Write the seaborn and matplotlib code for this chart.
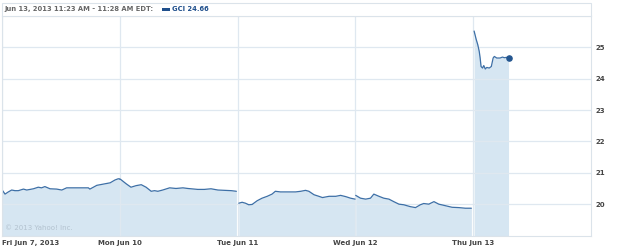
import matplotlib
matplotlib.use("Agg")
import matplotlib.pyplot as plt
from matplotlib.patches import Rectangle
import seaborn as sns
import pandas as pd

# ---- data (minutes since 9:30 open, price) ----
day_labels = ["Fri Jun 7, 2013", "Mon Jun 10", "Tue Jun 11", "Wed Jun 12", "Thu Jun 13"]

fri_min = [0, 10, 21, 32, 43, 54, 71, 82, 104, 120, 131, 142, 159, 181, 198, 214, 247, 286, 291, 314, 336, 358, 374, 385, 390]
fri_px = [20.46, 20.32, 20.39, 20.45, 20.43, 20.43, 20.48, 20.45, 20.49, 20.54, 20.52, 20.56, 20.49, 20.48, 20.45, 20.52, 20.52, 20.52, 20.48, 20.60, 20.64, 20.68, 20.77, 20.81, 20.80]

mon_min = [0, 4, 21, 37, 54, 71, 87, 104, 115, 126, 142, 165, 186, 209, 225, 258, 280, 302, 325, 347, 369, 386]
mon_px = [20.80, 20.78, 20.65, 20.54, 20.59, 20.62, 20.54, 20.41, 20.43, 20.41, 20.45, 20.52, 20.50, 20.52, 20.50, 20.47, 20.47, 20.49, 20.45, 20.44, 20.43, 20.41]

tue_min = [4, 15, 26, 37, 48, 65, 81, 98, 114, 125, 142, 159, 175, 192, 209, 225, 236, 253, 269, 281, 303, 325, 341, 358, 374, 389]
tue_px = [20.03, 20.06, 20.03, 19.98, 19.99, 20.11, 20.19, 20.25, 20.32, 20.41, 20.39, 20.39, 20.39, 20.39, 20.41, 20.44, 20.41, 20.30, 20.25, 20.21, 20.25, 20.25, 20.28, 20.24, 20.19, 20.16]

wed_min = [1, 17, 34, 50, 61, 78, 94, 111, 127, 144, 160, 182, 199, 215, 226, 243, 260, 276, 298, 320, 342, 364, 384]
wed_px = [20.28, 20.19, 20.16, 20.19, 20.32, 20.25, 20.19, 20.16, 20.08, 20.00, 19.98, 19.92, 19.89, 19.98, 20.02, 20.00, 20.08, 20.00, 19.95, 19.90, 19.89, 19.87, 19.87]

thu_min = [3, 10, 15, 20, 23, 26, 31, 35, 40, 45, 53, 60, 66, 70, 78, 89, 97, 103, 110, 117]
thu_px = [25.52, 25.25, 25.09, 24.87, 24.66, 24.39, 24.34, 24.42, 24.31, 24.36, 24.34, 24.39, 24.66, 24.71, 24.66, 24.66, 24.69, 24.67, 24.68, 24.66]

y_ticks = [20, 21, 22, 23, 24, 25]
header_text = "Jun 13, 2013 11:23 AM - 11:28 AM EDT:"
legend_text = "GCI 24.66"
watermark = "\u00a9 2013 Yahoo! Inc."

SESSION = 390.0
days = [(fri_min, fri_px), (mon_min, mon_px), (tue_min, tue_px), (wed_min, wed_px), (thu_min, thu_px)]
rows = []
for i, (mins, pxs) in enumerate(days):
    for m, p in zip(mins, pxs):
        rows.append({"day": i, "x": i + m / SESSION, "price": p})
df = pd.DataFrame(rows)

sns.set_style("white")
plt.rcParams["font.family"] = ["DejaVu Sans"]

W, H = 625, 248
fig = plt.figure(figsize=(W / 100, H / 100), dpi=100)
ax = fig.add_axes([2 / W, 1 - 235.5 / H, 589 / W, (235.5 - 16) / H])

line_c = "#3d6fa6"
fill_c = "#d6e6f2"
grid_c = "#dfe8f0"
ymin, ymax = 19.0, 26.0

for i in range(5):
    d = df[df["day"] == i]
    ax.fill_between(d["x"], d["price"], ymin, color=fill_c, lw=0, zorder=1)

sns.lineplot(data=df, x="x", y="price", units="day", estimator=None,
             color=line_c, lw=0.9, ax=ax, zorder=3, legend=False)
last = df.iloc[-1]
ax.scatter([last["x"]], [last["price"]], s=14, color="#23558f", zorder=4)

ax.set_xlim(0, 5)
ax.set_ylim(ymin, ymax)
ax.set_xticks(range(5))
ax.set_xticklabels(day_labels)
for k, lab in enumerate(ax.get_xticklabels()):
    if k == 0:
        lab.set_ha("left")
ax.set_yticks(y_ticks)
ax.yaxis.tick_right()
ax.tick_params(axis="both", length=0, labelsize=5.0, labelcolor="#444444")
ax.tick_params(axis="x", pad=3)
ax.tick_params(axis="y", pad=3)
for lab in ax.get_xticklabels() + ax.get_yticklabels():
    lab.set_fontweight("bold")
ax.set_xlabel("")
ax.set_ylabel("")
ax.grid(True, color=grid_c, lw=0.9, zorder=2)
ax.set_axisbelow(False)
for s in ax.spines.values():
    s.set_color("#dbe3ea")
    s.set_linewidth(0.8)
    s.set_zorder(5)

ax.text(0.005, 0.02, watermark, transform=ax.transAxes, fontsize=5.0,
        color="#b3c2cf", ha="left", va="bottom", zorder=2)

# header box
fig.patches.append(Rectangle((2 / W, 1 - 15.5 / H), 589 / W, 13 / H, transform=fig.transFigure,
                             facecolor="white", edgecolor="#dbe3ea", lw=0.8))
fig.text(4 / W, 1 - 9 / H, header_text, fontsize=4.9, fontweight="bold",
         color="#666666", ha="left", va="center")
fig.patches.append(Rectangle((162 / W, 1 - 10.5 / H), 8 / W, 3 / H, transform=fig.transFigure,
                             facecolor="#1f4f8c", edgecolor="none"))
fig.text(172 / W, 1 - 9 / H, legend_text, fontsize=4.9, fontweight="bold",
         color="#1f4f8c", ha="left", va="center")

fig.savefig("out.png", dpi=100)
